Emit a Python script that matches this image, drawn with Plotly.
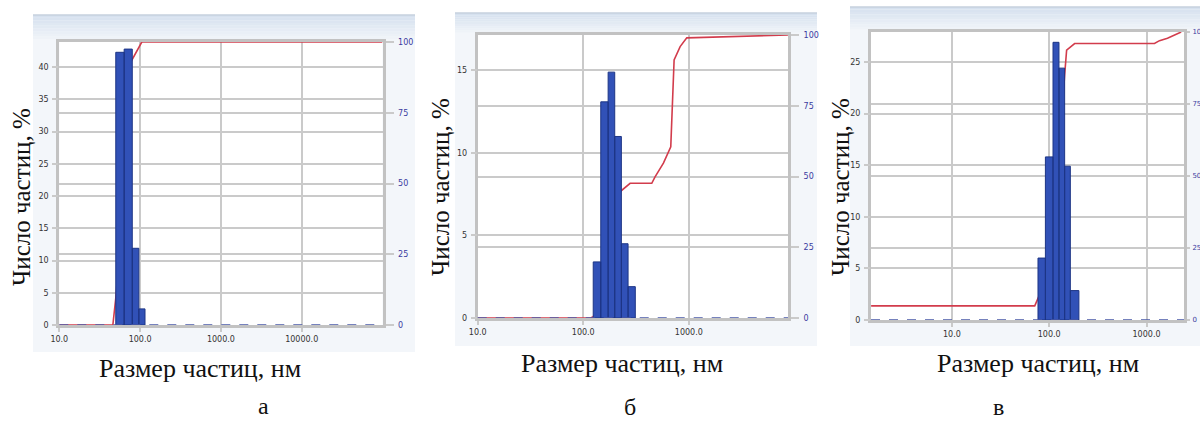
import plotly.graph_objects as go

W, H = 1200, 423

# ---------------- data ----------------
a_bin_edges = [50, 63.5, 80, 96.5, 115]
a_counts = [42.3, 42.8, 11.9, 2.5]
a_cum_x = [10, 46, 50, 63.5, 77, 105, 100000]
a_cum_y = [0, 0, 9.5, 45, 93, 100, 100]

b_bin_edges = [124.3, 146.6, 172.1, 198.7, 229.7, 265.9, 311.3]
b_counts = [3.4, 13.1, 14.9, 11.0, 4.5, 1.9]
b_cum_x = [10, 118, 124.3, 146.6, 172.1, 198.7, 223, 278, 446, 479, 575, 675, 705, 726, 828, 957, 8700]
b_cum_y = [0, 0, 0.5, 3.5, 16.5, 31.5, 44.6, 47.6, 47.6, 49.9, 54.7, 60.5, 77, 91.2, 95.9, 99, 100]

c_bin_edges = [76.7, 91.4, 109.4, 126.0, 144.1, 164.9, 201.9]
c_counts = [6.0, 15.8, 26.9, 24.4, 14.9, 2.85]
c_cum_x = [1.48, 71, 76.7, 91.4, 109.4, 126, 144, 151, 182.5, 1207, 1359, 1641, 2270]
c_cum_y = [4.9, 4.9, 7.5, 13.5, 29.3, 56, 85, 93.7, 96, 96, 97, 97.8, 100]

x_tick_vals_a = [10, 100, 1000, 10000]
x_tick_text_a = ["10.0", "100.0", "1000.0", "10000.0"]
x_tick_vals_bc = [10, 100, 1000]
x_tick_text_bc = ["10.0", "100.0", "1000.0"]
cum_ticks = [0, 25, 50, 75, 100]
count_ticks_a = [0, 5, 10, 15, 20, 25, 30, 35, 40]
count_ticks_b = [0, 5, 10, 15]
count_ticks_c = [0, 5, 10, 15, 20, 25]

y_title = "Число частиц, %"
x_title = "Размер частиц, нм"
panel_letters = ["а", "б", "в"]

# ---------------- layout geometry (pixels) ----------------
panels = [
    dict(edges=a_bin_edges, counts=a_counts, cx=a_cum_x, cy=a_cum_y,
         tv=x_tick_vals_a, tt=x_tick_text_a, ct=count_ticks_a,
         px=(59.3, 382.5), py=(42, 325), xr=[1, 5], ymax=43.9,
         bg=(33, 415, 15, 352), ytp=(21, 197), xtp=(200, 368), lp=(263, 406),
         rtick=(8, 3, 8)),
    dict(edges=b_bin_edges, counts=b_counts, cx=b_cum_x, cy=b_cum_y,
         tv=x_tick_vals_bc, tt=x_tick_text_bc, ct=count_ticks_b,
         px=(477.7, 788), py=(35, 318), xr=[1, 3.94], ymax=17.15,
         bg=(455, 817, 13, 346), ytp=(440, 187), xtp=(622, 363), lp=(630, 407),
         rtick=(8, 3, 8)),
    dict(edges=c_bin_edges, counts=c_counts, cx=c_cum_x, cy=c_cum_y,
         tv=x_tick_vals_bc, tt=x_tick_text_bc, ct=count_ticks_c,
         px=(871, 1184), py=(32, 320), xr=[0.169, 3.385], ymax=27.9,
         bg=(850, 1200, 7, 346), ytp=(840, 187), xtp=(1038, 363), lp=(998, 407),
         rtick=(3, 1, 7)),
]


def fx(p):
    return p / W


def fy(p):
    return 1 - p / H


def bar_polygons(edges, counts):
    xs, ys = [], []
    for i, c in enumerate(counts):
        xs += [edges[i], edges[i], edges[i + 1], edges[i + 1], edges[i], None]
        ys += [0, c, c, 0, 0, None]
    return xs, ys


GRID = "#cacaca"
BORDER = "#c2c2c2"
RED = "#d23c4c"
BLUE = "#3151b7"
BLUE_EDGE = "#1d3585"
TICKBLUE = "#3a3aa0"
SERIF = "Liberation Serif, Times New Roman, serif"

fig = go.Figure()
shapes = []
annotations = []
layout = {}

for i, p in enumerate(panels):
    n = i + 1
    xa = "xaxis" if n == 1 else f"xaxis{n}"
    xr_id = "x" if n == 1 else f"x{n}"
    yr_num = 2 * i + 1   # right axis (cumulative) - base
    yl_num = 2 * i + 2   # left axis (counts) - overlay, drawn on top
    yr_id = "y" if yr_num == 1 else f"y{yr_num}"
    yl_id = f"y{yl_num}"
    yr_key = "yaxis" if yr_num == 1 else f"yaxis{yr_num}"
    yl_key = f"yaxis{yl_num}"

    dom_x = [fx(p["px"][0]), fx(p["px"][1])]
    dom_y = [fy(p["py"][1]), fy(p["py"][0])]

    # panel background with soft gradient band at the top
    bx0, bx1, by0, by1 = p["bg"]
    shapes.append(dict(type="rect", xref="paper", yref="paper", layer="below",
                       x0=fx(bx0), x1=fx(bx1), y0=fy(by1), y1=fy(by0),
                       fillcolor="#f3f6fa", line=dict(width=0)))
    steps = 10
    c0 = (214, 225, 239)
    c1 = (243, 246, 250)
    band = p["py"][0] - by0
    for k in range(steps):
        t = k / (steps - 1)
        col = tuple(int(c0[j] + (c1[j] - c0[j]) * t) for j in range(3))
        shapes.append(dict(type="rect", xref="paper", yref="paper", layer="below",
                           x0=fx(bx0), x1=fx(bx1),
                           y0=fy(by0 + band * (k + 1) / steps),
                           y1=fy(by0 + band * k / steps),
                           fillcolor="rgb(%d,%d,%d)" % col, line=dict(width=0)))
    shapes.append(dict(type="line", xref="paper", yref="paper", layer="below",
                       x0=fx(bx0), x1=fx(bx1), y0=fy(by0), y1=fy(by0),
                       line=dict(color="#c6d0de", width=1.5)))
    # white plot area
    shapes.append(dict(type="rect", xref="paper", yref="paper", layer="below",
                       x0=dom_x[0], x1=dom_x[1], y0=dom_y[0], y1=dom_y[1],
                       fillcolor="white", line=dict(width=0)))

    # cumulative line (base axis -> below bars)
    fig.add_trace(go.Scatter(x=p["cx"], y=p["cy"], mode="lines",
                             line=dict(color=RED, width=1.6),
                             xaxis=xr_id, yaxis=yr_id, cliponaxis=False,
                             hoverinfo="skip"))
    # histogram bars
    bxs, bys = bar_polygons(p["edges"], p["counts"])
    fig.add_trace(go.Scatter(x=bxs, y=bys, mode="lines", fill="toself",
                             fillcolor=BLUE, line=dict(color=BLUE_EDGE, width=1),
                             xaxis=xr_id, yaxis=yl_id, hoverinfo="skip"))

    # dashed zero baseline of the histogram
    shapes.append(dict(type="line", xref=f"{xr_id} domain", yref=yl_id,
                       x0=0, x1=1, y0=0, y1=0,
                       line=dict(color="#4a5aa8", width=1.5, dash="dash")))

    rlen, rstand, rsize = p["rtick"]
    layout[xa] = dict(type="log", range=p["xr"], domain=dom_x, anchor=yr_id,
                      tickvals=p["tv"], ticktext=p["tt"],
                      showgrid=True, gridcolor=GRID, gridwidth=2,
                      showline=True, mirror=True, linecolor=BORDER, linewidth=3,
                      ticks="outside", ticklen=4, tickcolor=GRID, tickwidth=2,
                      tickfont=dict(family="DejaVu Sans", size=8, color="#333333"),
                      zeroline=False, fixedrange=True, automargin=False)
    layout[yr_key] = dict(range=[0, 100], domain=dom_y, anchor=xr_id, side="right",
                          tickvals=cum_ticks, ticktext=[str(v) for v in cum_ticks],
                          showgrid=True, gridcolor=GRID, gridwidth=2,
                          showline=True, mirror=True, linecolor=BORDER, linewidth=3,
                          ticks="outside", ticklen=rlen, tickcolor=GRID, tickwidth=2,
                          ticklabelstandoff=rstand,
                          tickfont=dict(family="DejaVu Sans", size=rsize, color=TICKBLUE),
                          zeroline=False, fixedrange=True, automargin=False)
    layout[yl_key] = dict(range=[0, p["ymax"]], domain=dom_y, anchor=xr_id, side="left",
                          overlaying=yr_id,
                          tickvals=p["ct"], ticktext=[str(v) for v in p["ct"]],
                          showgrid=True, gridcolor=GRID, gridwidth=2,
                          showline=False,
                          ticks="outside", ticklen=6, tickcolor=GRID, tickwidth=2,
                          ticklabelstandoff=2,
                          tickfont=dict(family="DejaVu Sans", size=8, color="#333333"),
                          zeroline=False, fixedrange=True, automargin=False)

    annotations.append(dict(text=y_title, xref="paper", yref="paper",
                            x=fx(p["ytp"][0]), y=fy(p["ytp"][1]), textangle=-90,
                            showarrow=False, xanchor="center", yanchor="middle",
                            font=dict(family=SERIF, size=25, color="#111111")))
    annotations.append(dict(text=x_title, xref="paper", yref="paper",
                            x=fx(p["xtp"][0]), y=fy(p["xtp"][1]),
                            showarrow=False, xanchor="center", yanchor="middle",
                            font=dict(family=SERIF, size=26, color="#111111")))
    annotations.append(dict(text=panel_letters[i], xref="paper", yref="paper",
                            x=fx(p["lp"][0]), y=fy(p["lp"][1]),
                            showarrow=False, xanchor="center", yanchor="middle",
                            font=dict(family=SERIF, size=24, color="#111111")))

fig.update_layout(width=W, height=H, margin=dict(l=0, r=0, t=0, b=0, autoexpand=False),
                  paper_bgcolor="white", plot_bgcolor="rgba(0,0,0,0)",
                  showlegend=False, shapes=shapes, annotations=annotations,
                  **layout)

fig.write_html("out.html", config={"displayModeBar": False},
               post_script="document.body.style.margin='0';document.body.style.overflow='hidden';")
